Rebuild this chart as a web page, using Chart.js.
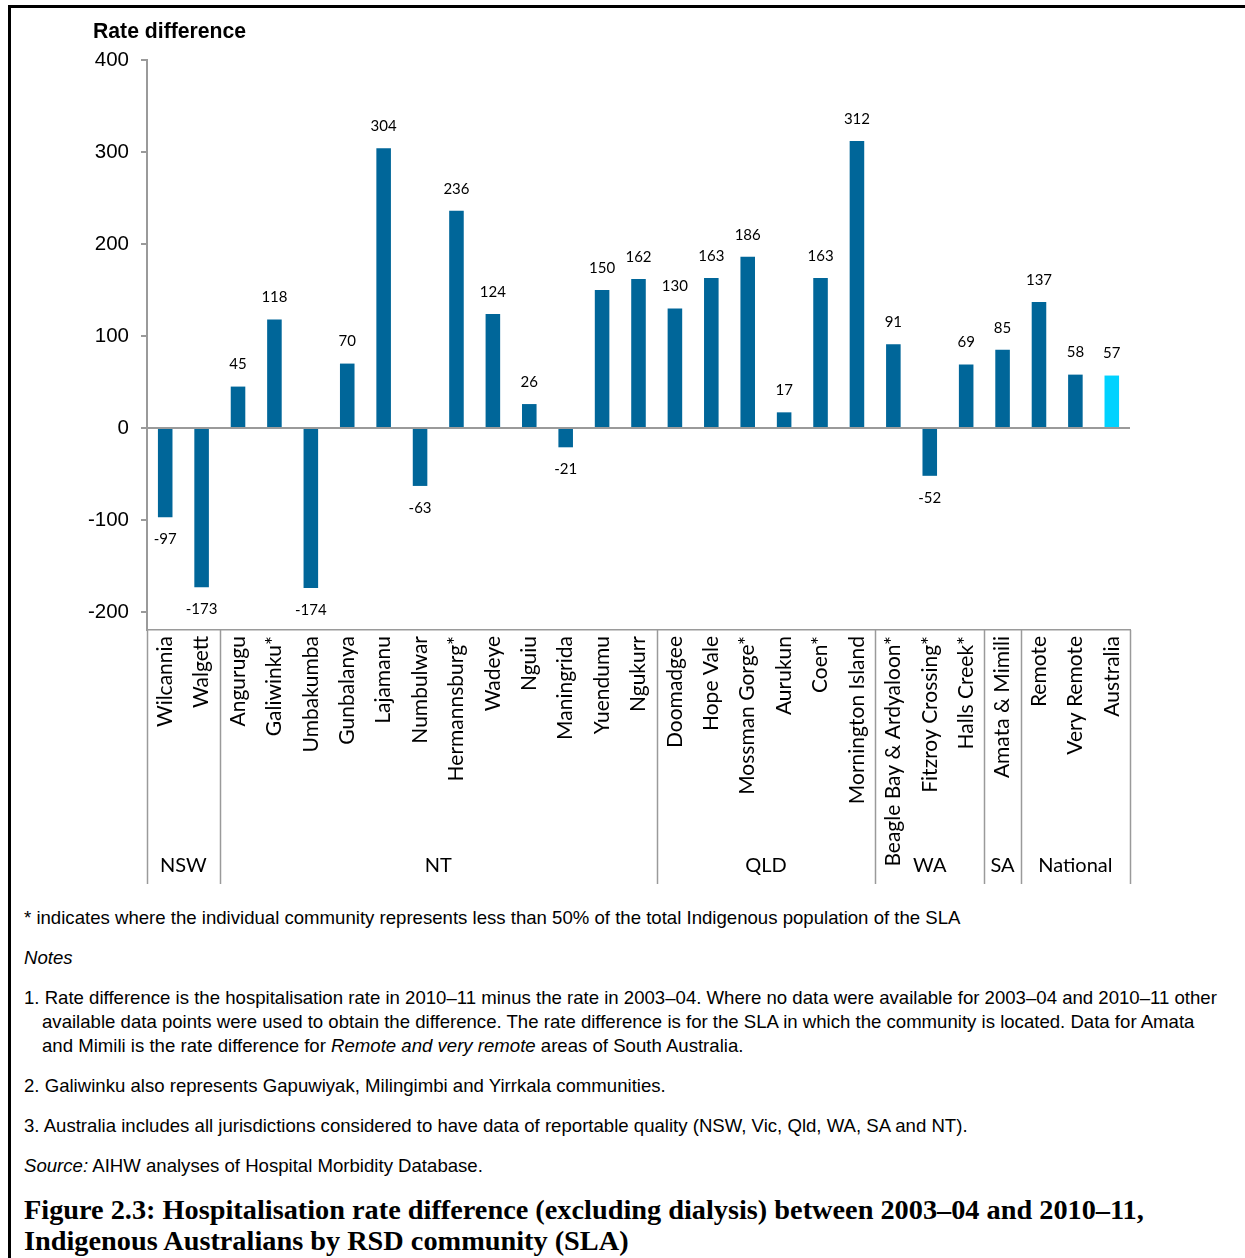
<!DOCTYPE html>
<html lang="en">
<head>
  <meta charset="UTF-8" />
  <title>Hospitalisation rate difference</title>
  <script src="https://cdn.jsdelivr.net/npm/chart.js"></script>
  <style>
    body { margin: 0; background: #fff; }
    .page { position: relative; width: 1245px; height: 1258px; overflow: hidden; background: #fff; }
    .frame-top { position: absolute; left: 8px; top: 5px; width: 1237px; height: 3px; background: #000; }
    .frame-left { position: absolute; left: 8px; top: 5px; width: 3px; height: 1253px; background: #000; }
    .ytitle { position: absolute; left: 93px; top: 19px; font: bold 21.2px "Liberation Sans", Arial, sans-serif; color: #000; }
    .note { position: absolute; left: 24px; font: 18.6px/24px "Liberation Sans", Arial, sans-serif; color: #000; white-space: nowrap; }
    .hang { padding-left: 18px; text-indent: -18px; }
    .fig { position: absolute; left: 24px; top: 1194px; font: bold 28.3px/31px "Liberation Serif", serif; color: #000; white-space: nowrap; }
    canvas { position: absolute; left: 0; top: 0; }
  </style>
</head>
<body>
  <div class="page">
    <canvas id="chart" width="1245" height="890"></canvas>
    <div class="frame-top"></div>
    <div class="frame-left"></div>
    <div class="ytitle">Rate difference</div>

    <div class="note" style="top:906px">* indicates where the individual community represents less than 50% of the total Indigenous population of the SLA</div>
    <div class="note" style="top:946px"><i>Notes</i></div>
    <div class="note hang" style="top:986px">1. Rate difference is the hospitalisation rate in 2010–11 minus the rate in 2003–04. Where no data were available for 2003–04 and 2010–11 other<br>available data points were used to obtain the difference. The rate difference is for the SLA in which the community is located. Data for Amata<br>and Mimili is the rate difference for <i>Remote and very remote</i> areas of South Australia.</div>
    <div class="note" style="top:1074px">2. Galiwinku also represents Gapuwiyak, Milingimbi and Yirrkala communities.</div>
    <div class="note" style="top:1114px">3. Australia includes all jurisdictions considered to have data of reportable quality (NSW, Vic, Qld, WA, SA and NT).</div>
    <div class="note" style="top:1154px"><i>Source:</i> AIHW analyses of Hospital Morbidity Database.</div>
    <div class="fig">Figure 2.3: Hospitalisation rate difference (excluding dialysis) between 2003–04 and 2010–11,<br>Indigenous Australians by RSD community (SLA)</div>
  </div>

  <script>
    const communities = [
      'Wilcannia', 'Walgett',
      'Angurugu', 'Galiwinku*', 'Umbakumba', 'Gunbalanya', 'Lajamanu', 'Numbulwar',
      'Hermannsburg*', 'Wadeye', 'Nguiu', 'Maningrida', 'Yuendumu', 'Ngukurr',
      'Doomadgee', 'Hope Vale', 'Mossman Gorge*', 'Aurukun', 'Coen*', 'Mornington Island',
      'Beagle Bay & Ardyaloon*', 'Fitzroy Crossing*', 'Halls Creek*',
      'Amata & Mimili',
      'Remote', 'Very Remote', 'Australia'
    ];
    const rateDiff = [
      -97, -173,
      45, 118, -174, 70, 304, -63, 236, 124, 26, -21, 150, 162,
      130, 163, 186, 17, 163, 312,
      91, -52, 69,
      85,
      137, 58, 57
    ];
    const groupNames = ['NSW', 'NT', 'QLD', 'WA', 'SA', 'National'];
    const groupSizes = [2, 12, 6, 3, 1, 3];
    const yTicks = [-200, -100, 0, 100, 200, 300, 400];

    const BLUE = '#006699';
    const CYAN = '#00D2FF';
    const AXIS = '#9a9a9a';

    // value labels above / below each bar
    const valueLabels = {
      id: 'valueLabels',
      afterDatasetsDraw(chart) {
        const { ctx } = chart;
        const meta = chart.getDatasetMeta(0);
        ctx.save();
        ctx.font = '15px Lato, "Open Sans", sans-serif';
        ctx.fillStyle = '#000';
        ctx.textAlign = 'center';
        ctx.textBaseline = 'middle';
        meta.data.forEach((bar, i) => {
          const v = rateDiff[i];
          const y = v >= 0 ? bar.y - 22 : bar.y + 22;
          ctx.fillText(String(v), bar.x, y);
        });
        ctx.restore();
      }
    };

    // state group separators and names under the category labels
    const groupAxis = {
      id: 'groupAxis',
      afterDraw(chart) {
        const { ctx, chartArea } = chart;
        const x = chart.scales.x;
        const top = chartArea.bottom;
        const bottom = x.bottom;
        const edge = i => i === 0 ? chartArea.left
          : i >= communities.length ? chartArea.right
          : (x.getPixelForValue(i - 1) + x.getPixelForValue(i)) / 2;
        ctx.save();
        ctx.strokeStyle = AXIS;
        ctx.lineWidth = 1.5;
        ctx.font = '20px Lato, "Open Sans", sans-serif';
        ctx.fillStyle = '#000';
        ctx.textAlign = 'center';
        ctx.textBaseline = 'middle';
        let start = 0;
        groupSizes.forEach((n, g) => {
          const x0 = edge(start), x1 = edge(start + n);
          ctx.beginPath();
          ctx.moveTo(Math.round(x0) + 0.5, top);
          ctx.lineTo(Math.round(x0) + 0.5, bottom);
          ctx.stroke();
          if (g === groupSizes.length - 1) {
            ctx.beginPath();
            ctx.moveTo(Math.round(x1) + 0.5, top);
            ctx.lineTo(Math.round(x1) + 0.5, bottom);
            ctx.stroke();
          }
          ctx.fillText(groupNames[g], (x0 + x1) / 2, bottom - 18);
          start += n;
        });
        ctx.restore();
      }
    };

    new Chart(document.getElementById('chart'), {
      type: 'bar',
      data: {
        labels: communities,
        datasets: [{
          data: rateDiff,
          backgroundColor: communities.map(c => c === 'Australia' ? CYAN : BLUE),
          borderWidth: 0,
          categoryPercentage: 1,
          barPercentage: 0.4
        }]
      },
      options: {
        responsive: false,
        animation: false,
        layout: { padding: { left: 0, right: 115, top: 60, bottom: 6 } },
        plugins: {
          legend: { display: false },
          tooltip: { enabled: false }
        },
        scales: {
          y: {
            min: -219.6,
            max: 400,
            afterBuildTicks: scale => {
              scale.ticks = yTicks.map(v => ({ value: v }));
            },
            afterFit: scale => { scale.width = 147; },
            border: { color: AXIS, width: 2 },
            grid: {
              color: c => c.tick && c.tick.value === 0 ? AXIS : 'rgba(0,0,0,0)',
              lineWidth: 2,
              tickLength: 6,
              tickColor: AXIS
            },
            ticks: {
              padding: 12,
              color: '#000',
              font: { family: '"Liberation Sans", Arial, sans-serif', size: 20.5 }
            }
          },
          x: {
            afterFit: scale => { scale.height = 254; },
            border: { display: true, color: AXIS, width: 1.5 },
            grid: { display: false, drawTicks: false },
            ticks: {
              autoSkip: false,
              minRotation: 90,
              maxRotation: 90,
              padding: 6,
              color: '#000',
              font: { family: 'Lato, "Open Sans", sans-serif', size: 21 }
            }
          }
        }
      },
      plugins: [valueLabels, groupAxis]
    });
  </script>
</body>
</html>
